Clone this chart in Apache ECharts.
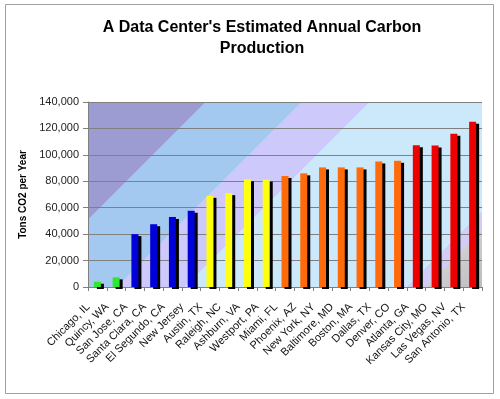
<!DOCTYPE html>
<html>
<head>
<meta charset="utf-8">
<script src="https://cdn.jsdelivr.net/npm/echarts@6/dist/echarts.min.js"></script>
<style>
  html, body { margin: 0; padding: 0; background: #fff; }
  #chart { width: 500px; height: 399px; }
</style>
</head>
<body>
<div id="chart"></div>
<script>
// data
var cities = [
  "Chicago, IL", "Quincy, WA", "San Jose, CA", "Santa Clara, CA", "El Segundo, CA",
  "New Jersey", "Austin, TX", "Raleigh, NC", "Ashburn, VA", "Westport, PA",
  "Miami, FL", "Phoenix, AZ", "New York, NY", "Baltimore, MD", "Boston, MA",
  "Dallas, TX", "Denver, CO", "Atlanta, GA", "Kansas City, MO", "Las Vegas, NV",
  "San Antonio, TX"
];
var tonsCO2 = [
  4000, 7300, 40000, 47500, 53000,
  57700, 69000, 71000, 81500, 81300,
  84000, 86000, 90500, 90500, 90500,
  95000, 95500, 107300, 107000, 116000,
  125000
];
var yTicks = { min: 0, max: 140000, step: 20000 };

// plot box
var gridBox = { left: 88, top: 102, right: 18, bottom: 112 };
var plotW = 500 - gridBox.left - gridBox.right;
var plotH = 399 - gridBox.top - gridBox.bottom;

// diagonal bands behind the bars (Excel style picture fill)
var span = plotW + plotH;
function st(s) { return s / span; }
var bandStops = [
  { offset: 0, color: "#9c9cd2" },
  { offset: st(118), color: "#9c9cd2" },
  { offset: st(118), color: "#a3c9f0" },
  { offset: st(214), color: "#a3c9f0" },
  { offset: st(214), color: "#cdc9fb" },
  { offset: st(282), color: "#cdc9fb" },
  { offset: st(282), color: "#cbe9fb" },
  { offset: st(504), color: "#cbe9fb" },
  { offset: st(504), color: "#d2cdf6" },
  { offset: st(523), color: "#d2cdf6" },
  { offset: st(523), color: "#cfcfd2" },
  { offset: 1, color: "#bdbcc0" }
];
var bandFill = new echarts.graphic.LinearGradient(
  gridBox.left, gridBox.top,
  gridBox.left + span / 2, gridBox.top + span / 2,
  bandStops, true
);

var chart = echarts.init(document.getElementById("chart"));
var option = {
  animation: false,
  textStyle: { fontFamily: "Liberation Sans, Arial, sans-serif" },
  title: {
    text: "A Data Center's Estimated Annual Carbon\nProduction",
    left: 257,
    top: 12,
    textAlign: "center",
    textStyle: {
      fontSize: 16,
      fontWeight: "bold",
      color: "#000",
      lineHeight: 21
    }
  },
  graphic: [
    {
      type: "rect",
      shape: { x: 5.5, y: 4.5, width: 488, height: 389 },
      style: { fill: "none", stroke: "#a0a0a0", lineWidth: 1 },
      silent: true
    }
  ],
  grid: {
    left: gridBox.left,
    top: gridBox.top,
    right: gridBox.right,
    bottom: gridBox.bottom,
    show: true,
    borderWidth: 0,
    backgroundColor: bandFill
  },
  visualMap: {
    show: false,
    type: "piecewise",
    dimension: 1,
    seriesIndex: 0,
    pieces: [
      { lt: 20000, color: "#2ee82e" },
      { gte: 20000, lt: 65000, color: "#0000d8" },
      { gte: 65000, lt: 82500, color: "#ffff10" },
      { gte: 82500, lt: 100000, color: "#ff6a0a" },
      { gte: 100000, color: "#ee0000" }
    ]
  },
  xAxis: {
    type: "category",
    data: cities,
    axisLine: { lineStyle: { color: "#808080", width: 1 } },
    axisTick: { show: true, length: 4, lineStyle: { color: "#808080" } },
    axisLabel: {
      rotate: 45,
      interval: 0,
      margin: 9,
      padding: [0, 13, 0, 0],
      fontSize: 11,
      color: "#111"
    }
  },
  yAxis: {
    type: "value",
    min: yTicks.min,
    max: yTicks.max,
    interval: yTicks.step,
    name: "Tons CO2 per Year",
    nameLocation: "middle",
    nameGap: 49,
    nameTextStyle: { fontSize: 10, fontWeight: "bold", color: "#000" },
    axisLine: { show: true, lineStyle: { color: "#808080" } },
    axisTick: { show: true, length: 5, lineStyle: { color: "#808080" } },
    axisLabel: {
      margin: 9,
      fontSize: 11,
      color: "#222",
      formatter: function (v) { return v.toLocaleString("en-US"); }
    },
    splitLine: { show: true, lineStyle: { color: "#808080", width: 1 } }
  },
  series: [
    {
      type: "bar",
      data: tonsCO2,
      barWidth: 7,
      itemStyle: {
        shadowColor: "#000",
        shadowBlur: 0,
        shadowOffsetX: 3,
        shadowOffsetY: 2
      }
    }
  ]
};
chart.setOption(option);
</script>
</body>
</html>
